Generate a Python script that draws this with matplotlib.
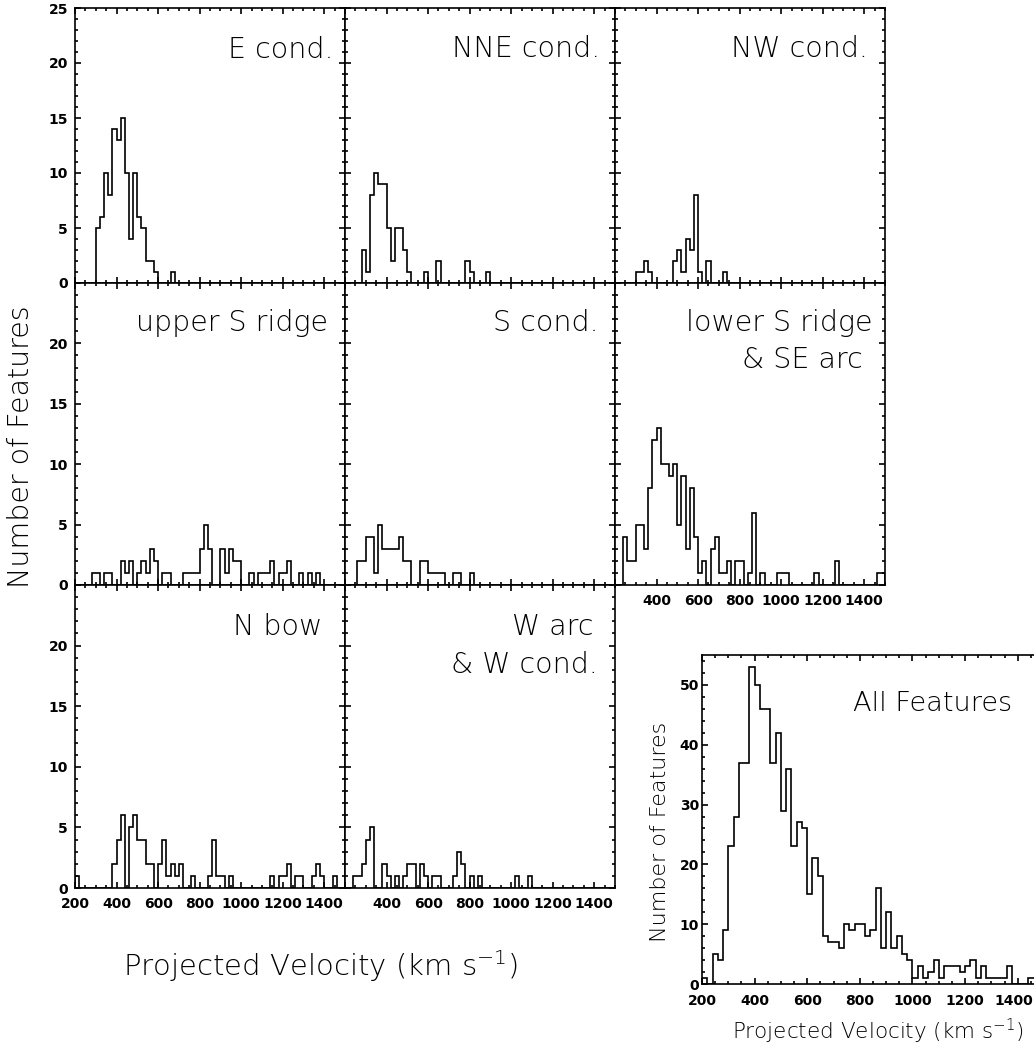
import numpy as np
import matplotlib
matplotlib.use("Agg")
import matplotlib.pyplot as plt
from matplotlib.ticker import MultipleLocator
from matplotlib.transforms import ScaledTranslation

plt.rcParams["font.family"] = ["DejaVu Sans"]
plt.rcParams["mathtext.default"] = "regular"

W, H = 1034, 1044

# 20 km/s bins from 200 to 1500 km/s
bin_edges = np.arange(200, 1520, 20)

# counts per bin, starting at the 200-220 bin (trailing zeros omitted)
e_cond = [0, 0, 0, 0, 0, 5, 6, 10, 8, 14, 13, 15, 10, 4, 10, 6, 5, 2, 2, 1,
          0, 0, 0, 1]
nne_cond = [0, 0, 0, 0, 3, 1, 8, 10, 9, 9, 5, 2, 5, 5, 3, 1, 0, 0, 0, 1,
            0, 0, 2, 0, 0, 0, 0, 0, 0, 2, 1, 0, 0, 0, 1]
nw_cond = [0, 0, 0, 0, 0, 1, 1, 2, 1, 0, 0, 0, 0, 0, 2, 3, 1, 4, 3, 8,
           1, 0, 2, 0, 0, 0, 1]
upper_s_ridge = [0, 0, 0, 0, 1, 1, 0, 1, 1, 0, 0, 2, 1, 2, 0, 1, 2, 1, 3, 2,
                 0, 1, 1, 0, 0, 0, 1, 1, 1, 1, 3, 5, 3, 0, 0, 3, 1, 3, 2, 2,
                 0, 0, 1, 0, 1, 1, 1, 2, 0, 1, 1, 2, 0, 0, 1, 0, 1, 0, 1]
s_cond = [0, 0, 0, 2, 2, 4, 4, 1, 5, 3, 3, 3, 3, 4, 2, 2, 0, 0, 2, 2,
          1, 1, 1, 1, 0, 0, 1, 1, 0, 0, 1]
lower_s_ridge = [0, 0, 4, 2, 2, 5, 5, 3, 8, 12, 13, 10, 10, 9, 10, 5, 9, 3, 8, 4,
                 1, 2, 0, 3, 4, 1, 1, 2, 0, 2, 2, 0, 1, 6, 0, 1, 0, 0, 0, 1,
                 1, 1, 0, 0, 0, 0, 0, 0, 1, 0, 0, 0, 0, 2, 0, 0, 0, 0, 0, 0,
                 0, 0, 0, 1, 1]
n_bow = [1, 0, 0, 0, 0, 0, 0, 0, 0, 2, 4, 6, 0, 5, 6, 4, 4, 2, 2, 0,
         2, 4, 1, 2, 1, 2, 0, 0, 1, 0, 0, 0, 1, 4, 1, 1, 0, 1, 0, 0,
         0, 0, 0, 0, 0, 0, 0, 1, 0, 1, 1, 2, 0, 1, 1, 0, 0, 1, 2, 1,
         0, 0, 1]
w_arc = [0, 0, 1, 1, 2, 4, 5, 0, 0, 2, 1, 0, 1, 0, 1, 2, 2, 0, 2, 1,
         0, 1, 1, 0, 0, 0, 1, 3, 2, 0, 1, 0, 1, 0, 0, 0, 0, 0, 0, 0,
         0, 1, 0, 0, 1]
all_features = [1, 0, 5, 4, 9, 23, 28, 37, 37, 53, 50, 46, 46, 37, 42, 29, 36, 23, 27, 26,
                15, 21, 18, 8, 7, 7, 6, 10, 9, 10, 10, 8, 9, 16, 6, 12, 6, 8, 5, 4,
                1, 3, 1, 2, 4, 1, 3, 3, 3, 2, 3, 4, 1, 3, 1, 1, 1, 1, 3, 0,
                0, 0, 1, 1]

panels = [
    (0, 0, e_cond, ["E cond."]),
    (0, 1, nne_cond, ["NNE cond."]),
    (0, 2, nw_cond, ["NW cond."]),
    (1, 0, upper_s_ridge, ["upper S ridge"]),
    (1, 1, s_cond, ["S cond."]),
    (1, 2, lower_s_ridge, ["lower S ridge", "& SE arc"]),
    (2, 0, n_bow, ["N bow"]),
    (2, 1, w_arc, ["W arc", "& W cond."]),
]

# label placement (right edge, baselines) in pixels, per panel
label_pos = {
    "E cond.": (333, 58), "NNE cond.": (600, 57), "NW cond.": (868, 57),
    "upper S ridge": (328, 331), "S cond.": (599, 331),
    "lower S ridge": (873, 331), "& SE arc": (863, 368),
    "N bow": (322, 635), "W arc": (593, 635), "& W cond.": (598, 673),
}

col_x = [75, 345, 615]
col_w = 270
rows = [(8, 275), (283, 302), (585, 303)]

tick_font = dict(family="DejaVu Sans", weight="bold", size=10)
label_font = dict(family="DejaVu Sans", weight="light")


def padded(counts):
    out = np.zeros(len(bin_edges) - 1)
    out[:len(counts)] = counts
    return out


def px_axes(fig, x, y, w, h):
    return fig.add_axes([x / W, 1 - (y + h) / H, w / W, h / H])


def style_axes(ax):
    ax.tick_params(which="both", direction="in", top=True, right=True,
                   width=1.2, colors="black")
    ax.tick_params(which="major", length=4.5)
    ax.tick_params(which="minor", length=2.3)
    for s in ax.spines.values():
        s.set_linewidth(1.2)


fig = plt.figure(figsize=(W / 100, H / 100), dpi=100)

for r, c, counts, names in panels:
    top, h = rows[r]
    ax = px_axes(fig, col_x[c], top, col_w, h)
    ax.stairs(padded(counts), bin_edges, color="black", linewidth=1.2)
    ax.set_xlim(200, 1500)
    ax.set_ylim(0, 25)
    style_axes(ax)
    ax.xaxis.set_minor_locator(MultipleLocator(50))
    ax.yaxis.set_minor_locator(MultipleLocator(1))

    xt = list(range(200, 1600, 200))[:7]
    if r == 2 and c == 0:
        ax.set_xticks(xt, [str(v) for v in xt], **tick_font)
    elif (r == 2 and c == 1) or (r == 1 and c == 2):
        ax.set_xticks(xt, [""] + [str(v) for v in xt[1:]], **tick_font)
    else:
        ax.set_xticks(xt, [""] * len(xt))

    yt = [0, 5, 10, 15, 20, 25]
    if c == 0:
        ylabels = [str(v) for v in yt]
        if r > 0:
            ylabels[-1] = ""
        ax.set_yticks(yt, ylabels, **tick_font)
    else:
        ax.set_yticks(yt, [""] * len(yt))
    ax.tick_params(axis="x", pad=6.5)
    ax.tick_params(axis="y", pad=5)

    for name in names:
        x, y = label_pos[name]
        fig.text(x / W, 1 - y / H, name, ha="right", va="baseline",
                 fontsize=20.5, **label_font)

# combined histogram
ax = px_axes(fig, 702, 655, 342, 329)
ax.stairs(padded(all_features), bin_edges, color="black", linewidth=1.2)
ax.set_xlim(200, 1500)
ax.set_ylim(0, 55)
style_axes(ax)
ax.xaxis.set_minor_locator(MultipleLocator(50))
ax.yaxis.set_minor_locator(MultipleLocator(2))
xt = list(range(200, 1600, 200))[:7]
ax.set_xticks(xt, [str(v) for v in xt], **tick_font)
ax.set_yticks(range(0, 60, 10), [str(v) for v in range(0, 60, 10)], **tick_font)
ax.tick_params(axis="x", pad=7)
ax.tick_params(axis="y", pad=2)
# keep the last label inside the figure edge
last = ax.get_xticklabels()[-1]
last.set_transform(last.get_transform()
                   + ScaledTranslation(-4 / 100, 0, fig.dpi_scale_trans))
fig.text(1012 / W, 1 - 711 / H, "All Features", ha="right", va="baseline",
         fontsize=19.5, **label_font)
fig.text(878 / W, 1 - 1031 / H, "Projected Velocity (km s$^{-1}$)",
         ha="center", va="center", fontsize=15.5, **label_font)
fig.text(660 / W, 1 - 832 / H, "Number of Features", ha="center",
         va="center", rotation=90, fontsize=16, **label_font)

# shared axis labels for the panel grid
fig.text(320 / W, 1 - 966 / H, "Projected Velocity (km s$^{-1}$)",
         ha="center", va="center", fontsize=21, **label_font)
fig.text(21 / W, 1 - 447 / H, "Number of Features", ha="center",
         va="center", rotation=90, fontsize=20.5, **label_font)

fig.savefig("out.png", dpi=100, facecolor="white")
